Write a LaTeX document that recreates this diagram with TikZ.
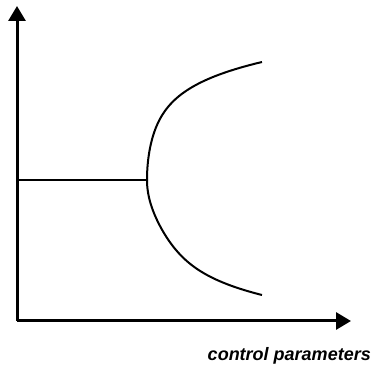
\documentclass[tikz,border=0pt]{standalone}
\usepackage{fontspec}
\setmainfont{Liberation Sans}
\usetikzlibrary{arrows.meta}
\tikzset{
  axis/.style={line width=3pt, -{Triangle[length=15pt,width=17pt]}},
  branch/.style={line width=2pt},
}
\begin{document}
\begin{tikzpicture}[x=1pt, y=-1pt]
  \useasboundingbox (0,0) rectangle (373,371);
  % Axes: origin bottom left, arrows up and right.
  \coordinate (origin) at (17,321);
  \coordinate (ytip) at (17,6);
  \coordinate (xtip) at (351,321);
  \draw[axis] (origin) -- (ytip);
  \draw[axis] (origin) -- (xtip);
  % Stable branch up to the bifurcation point.
  \coordinate (left) at (17,180);
  \coordinate (bend) at (147,180);
  \draw[branch] (left) -- (bend);
  % Two new branches opening to the right.
  \draw[branch] plot[domain=0:118, samples=60, smooth]
    ({147+28.3*(\x/100)^2+9.6*(\x/100)^4+21.1*(\x/100)^6},{180-\x});
  \draw[branch] plot[domain=0:115, samples=60, smooth]
    ({147+67*(\x/100)^2-34.25*(\x/100)^4+37.3*(\x/100)^6},{180+\x});
  \node[anchor=base east, inner sep=0pt] (xlabel) at (371,361)
    {\fontsize{18}{18}\selectfont\bfseries\itshape control parameters};
\end{tikzpicture}
\end{document}
